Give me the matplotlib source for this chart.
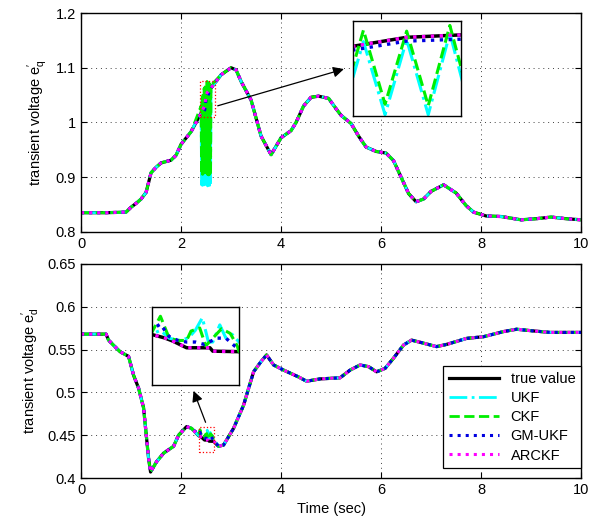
import numpy as np
import matplotlib
matplotlib.use("Agg")
import matplotlib.pyplot as plt
from matplotlib.patches import Rectangle
from matplotlib.ticker import FuncFormatter

plt.rcParams['font.family'] = ['Liberation Sans', 'DejaVu Sans']
plt.rcParams['mathtext.fontset'] = 'custom'
plt.rcParams['mathtext.rm'] = 'Liberation Sans'

# ---- e'_q : true value key points ----
tq = [0, 0.5, 0.9, 1.0, 1.1, 1.2, 1.3, 1.4, 1.5, 1.6, 1.8, 1.9, 2.0, 2.2, 2.4,
      2.475, 2.5, 2.525, 2.6, 2.8, 3.0, 3.1, 3.2, 3.4, 3.6, 3.8, 4.0, 4.2, 4.3,
      4.45, 4.6, 4.75, 4.95, 5.1, 5.2, 5.4, 5.55, 5.7, 5.9, 6.1, 6.25, 6.4, 6.55,
      6.7, 6.85, 7.0, 7.25, 7.5, 7.7, 7.85, 8.1, 8.4, 8.8, 9.1, 9.4, 9.7, 10]
eq_true = [0.835, 0.835, 0.836, 0.845, 0.852, 0.860, 0.872, 0.908, 0.918, 0.926,
           0.931, 0.940, 0.960, 0.983, 1.017, 1.031, 1.050, 1.055, 1.063, 1.087,
           1.100, 1.096, 1.075, 1.041, 0.975, 0.941, 0.972, 0.985, 1.000, 1.030,
           1.046, 1.048, 1.044, 1.025, 1.013, 0.998, 0.975, 0.955, 0.947, 0.944,
           0.930, 0.900, 0.870, 0.855, 0.860, 0.874, 0.886, 0.871, 0.848, 0.836,
           0.829, 0.828, 0.822, 0.824, 0.827, 0.824, 0.822]

# burst of the UKF / CKF estimates around t = 2.5 s
tq_burst = [2.40, 2.41, 2.42, 2.43, 2.44, 2.45, 2.46, 2.47, 2.48, 2.49, 2.50,
            2.51, 2.52, 2.53, 2.54, 2.55, 2.56, 2.57, 2.58, 2.59, 2.60]
eq_ckf_burst = [1.030, 0.906, 1.045, 0.905, 1.055, 0.907, 1.062, 0.908, 1.065,
                0.909, 1.063, 0.906, 1.075, 0.905, 1.072, 0.904, 1.072, 0.905,
                1.070, 0.904, 1.068]
eq_ukf_burst = [1.020, 0.886, 1.030, 0.885, 1.038, 0.887, 1.040, 0.886, 1.041,
                0.887, 1.045, 0.887, 1.059, 0.884, 1.058, 0.886, 1.060, 0.885,
                1.060, 0.886, 1.062]
tq_gm = [2.45, 2.475, 2.50, 2.525, 2.56]
eq_gm = [1.020, 1.023, 1.042, 1.046, 1.055]

# ---- e'_d : true value key points ----
td = [0, 0.5, 0.55, 0.65, 0.78, 0.95, 1.05, 1.15, 1.25, 1.35, 1.39, 1.51, 1.65,
      1.85, 1.95, 2.11, 2.21, 2.35, 2.394, 2.422, 2.47, 2.55, 2.56, 2.65, 2.75,
      2.85, 3.05, 3.25, 3.45, 3.6, 3.71, 3.85, 4.05, 4.35, 4.51, 4.78, 5.18, 5.38,
      5.58, 5.75, 5.91, 6.08, 6.25, 6.45, 6.61, 6.78, 7.11, 7.31, 7.71, 8.05,
      8.45, 8.71, 9.05, 9.38, 10]
ed_true = [0.568, 0.568, 0.561, 0.555, 0.5475, 0.542, 0.520, 0.505, 0.482, 0.423,
           0.407, 0.419, 0.429, 0.437, 0.450, 0.460, 0.458, 0.4494, 0.4481,
           0.4469, 0.4443, 0.4443, 0.443, 0.4428, 0.437, 0.4385, 0.458, 0.485,
           0.524, 0.536, 0.5437, 0.532, 0.526, 0.518, 0.513, 0.5157, 0.517, 0.526,
           0.532, 0.530, 0.524, 0.528, 0.540, 0.5553, 0.561, 0.5585, 0.5534,
           0.556, 0.563, 0.565, 0.571, 0.5737, 0.5717, 0.570, 0.570]

td_ukf = [2.35, 2.38, 2.41, 2.44, 2.476, 2.50, 2.524, 2.545, 2.56, 2.584, 2.605,
          2.626, 2.65]
ed_ukf = [0.4495, 0.451, 0.448, 0.4471, 0.448, 0.451, 0.4558, 0.4465, 0.4465,
          0.4531, 0.448, 0.4495, 0.4465]
td_ckf = [2.35, 2.38, 2.41, 2.44, 2.47, 2.485, 2.515, 2.536, 2.56, 2.59, 2.62,
          2.644]
ed_ckf = [0.4501, 0.4564, 0.448, 0.4471, 0.4471, 0.4507, 0.4519, 0.445, 0.448,
          0.4516, 0.4498, 0.445]
td_gm = [2.35, 2.38, 2.41, 2.44, 2.47, 2.50, 2.53, 2.575, 2.605, 2.635, 2.65]
ed_gm = [0.4513, 0.4534, 0.4486, 0.4471, 0.4465, 0.4465, 0.4456, 0.448, 0.448,
         0.445, 0.4441]

labels = ['true value', 'UKF', 'CKF', 'GM-UKF', 'ARCKF']


def splice(t, v, t_loc, v_loc):
    # true points outside the local window, local estimate points inside it
    t = np.asarray(t)
    v = np.asarray(v)
    keep = (t < t_loc[0]) | (t > t_loc[-1])
    tt = np.concatenate([t[keep], t_loc])
    vv = np.concatenate([v[keep], v_loc])
    order = np.argsort(tt, kind='stable')
    return tt[order], vv[order]


def draw_series(ax, series, lw=2.0):
    styles = [dict(color='k', ls='-', lw=lw + 0.3),
              dict(color='#00ffff', ls='-.', lw=lw),
              dict(color='#00ee00', ls='--', lw=lw),
              dict(color='#0000e0', ls=':', lw=lw + 0.2),
              dict(color='#ff00ff', ls=':', lw=lw + 0.2)]
    lines = []
    for (t, v), st, lab in zip(series, styles, labels):
        ln, = ax.plot(t, v, label=lab, **st)
        lines.append(ln)
    return lines


def style_axes(ax):
    ax.grid(True, color='k', ls=(0, (1, 4)), lw=0.7, alpha=0.75)
    ax.tick_params(direction='in', top=True, right=True, length=4,
                   labelsize=10.5)
    for s in ax.spines.values():
        s.set_linewidth(1.0)
    ax.yaxis.set_major_formatter(FuncFormatter(lambda v, p: '%g' % round(v, 3)))
    ax.xaxis.set_major_formatter(FuncFormatter(lambda v, p: '%g' % v))


series_q = [(tq, eq_true),
            splice(tq, eq_true, tq_burst, eq_ukf_burst),
            splice(tq, eq_true, tq_burst, eq_ckf_burst),
            splice(tq, eq_true, tq_gm, eq_gm),
            (tq, eq_true)]
series_d = [(td, ed_true),
            splice(td, ed_true, td_ukf, ed_ukf),
            splice(td, ed_true, td_ckf, ed_ckf),
            splice(td, ed_true, td_gm, ed_gm),
            (td, ed_true)]

fig = plt.figure(figsize=(5.96, 5.21), dpi=100)
ax1 = fig.add_axes([0.136, 0.555, 0.839, 0.420])
ax2 = fig.add_axes([0.136, 0.0825, 0.839, 0.411])

draw_series(ax1, series_q)
ax1.set_xlim(0, 10)
ax1.set_ylim(0.8, 1.2)
ax1.set_xticks([0, 2, 4, 6, 8, 10])
ax1.set_yticks([0.8, 0.9, 1.0, 1.1, 1.2])
ax1.set_ylabel(r"transient voltage $\mathregular{e_q^{\prime}}$", fontsize=10.5)
style_axes(ax1)
ax1.add_patch(Rectangle((2.38, 1.010), 0.29, 0.065, fill=False, ec='red',
                        ls=':', lw=0.9, zorder=5))
ax1.annotate('', xy=(5.31, 1.099), xytext=(2.68, 1.029),
             arrowprops=dict(arrowstyle='-|>', color='k', lw=0.9,
                             mutation_scale=16), zorder=6)

draw_series(ax2, series_d)
ax2.set_xlim(0, 10)
ax2.set_ylim(0.4, 0.65)
ax2.set_xticks([0, 2, 4, 6, 8, 10])
ax2.set_yticks([0.4, 0.45, 0.5, 0.55, 0.6, 0.65])
ax2.set_ylabel(r"transient voltage $\mathregular{e_d^{\prime}}$", fontsize=10.5)
ax2.set_xlabel('Time (sec)', fontsize=10.5)
style_axes(ax2)
ax2.add_patch(Rectangle((2.35, 0.430), 0.30, 0.030, fill=False, ec='red',
                        ls=':', lw=0.9, zorder=5))
ax2.annotate('', xy=(2.23, 0.5048), xytext=(2.51, 0.462),
             arrowprops=dict(arrowstyle='-|>', color='k', lw=0.9,
                             mutation_scale=16), zorder=6)
leg = ax2.legend(loc='lower right', bbox_to_anchor=(1.0, 0.045),
                 borderaxespad=0, fontsize=10.5, handlelength=3.4,
                 fancybox=False, edgecolor='k', framealpha=1,
                 borderpad=0.4, labelspacing=0.35)
leg.get_frame().set_linewidth(0.9)

# insets
in1 = fig.add_axes([0.5917, 0.778, 0.1812, 0.1823])
draw_series(in1, series_q, lw=2.2)
in1.set_xlim(2.475, 2.525)
in1.set_ylim(0.885, 1.085)

in2 = fig.add_axes([0.2545, 0.261, 0.1465, 0.150])
draw_series(in2, series_d, lw=2.2)
in2.set_xlim(2.35, 2.65)
in2.set_ylim(0.43, 0.46)

for ax in (in1, in2):
    ax.set_xticks([])
    ax.set_yticks([])
    for s in ax.spines.values():
        s.set_linewidth(1.0)

fig.savefig('out.png', dpi=100)
